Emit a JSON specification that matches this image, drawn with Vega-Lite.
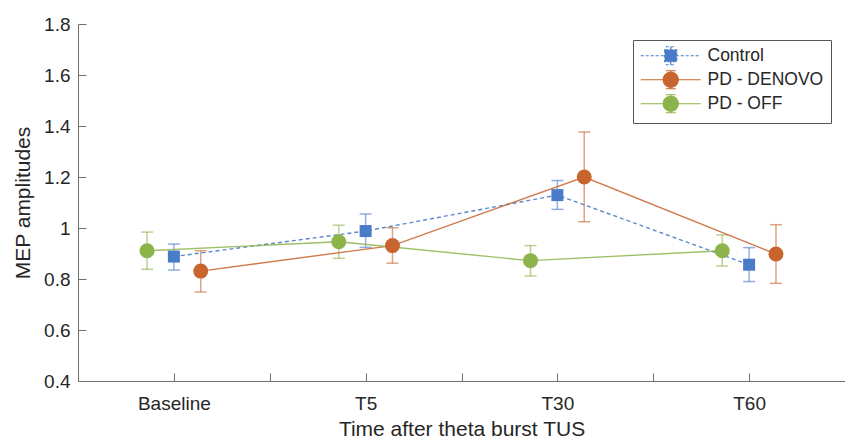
{
  "$schema": "https://vega.github.io/schema/vega-lite/v6.json",
  "width": 767,
  "height": 357,
  "autosize": {"type": "none"},
  "padding": {"left": 78, "top": 24, "right": 0, "bottom": 59},
  "config": {
    "view": {"stroke": null},
    "font": "Liberation Sans",
    "axis": {
      "domainColor": "#707070",
      "tickColor": "#707070",
      "labelColor": "#262626",
      "titleColor": "#262626",
      "labelFont": "Liberation Sans",
      "titleFont": "Liberation Sans",
      "labelFontSize": 19,
      "titleFontSize": 21,
      "titleFontWeight": "normal",
      "tickSize": -8,
      "grid": false
    },
    "legend": {
      "labelFont": "Liberation Sans",
      "labelFontSize": 17.5,
      "labelColor": "#262626",
      "strokeColor": "#555555",
      "fillColor": "white",
      "padding": 7,
      "rowPadding": 0,
      "symbolSize": 100,
      "symbolOffset": 22,
      "labelOffset": 28,
      "symbolStrokeWidth": 1.2,
      "symbolOpacity": 1
    }
  },
  "data": {
    "values": [
      {"group": "Control", "t": 1, "mean": 0.888, "lo": 0.835, "hi": 0.937},
      {"group": "Control", "t": 2, "mean": 0.988, "lo": 0.924, "hi": 1.055},
      {"group": "Control", "t": 3, "mean": 1.129, "lo": 1.073, "hi": 1.186},
      {"group": "Control", "t": 4, "mean": 0.856, "lo": 0.79, "hi": 0.923},
      {"group": "PD - DENOVO", "t": 1, "mean": 0.831, "lo": 0.749, "hi": 0.911},
      {"group": "PD - DENOVO", "t": 2, "mean": 0.931, "lo": 0.862, "hi": 1.001},
      {"group": "PD - DENOVO", "t": 3, "mean": 1.2, "lo": 1.025, "hi": 1.376},
      {"group": "PD - DENOVO", "t": 4, "mean": 0.898, "lo": 0.783, "hi": 1.013},
      {"group": "PD - OFF", "t": 1, "mean": 0.911, "lo": 0.838, "hi": 0.984},
      {"group": "PD - OFF", "t": 2, "mean": 0.946, "lo": 0.881, "hi": 1.011},
      {"group": "PD - OFF", "t": 3, "mean": 0.872, "lo": 0.812, "hi": 0.931},
      {"group": "PD - OFF", "t": 4, "mean": 0.911, "lo": 0.851, "hi": 0.973}
    ]
  },
  "transform": [
    {"calculate": "datum.t + (datum.group === 'PD - OFF' ? -0.14 : datum.group === 'PD - DENOVO' ? 0.14 : 0)", "as": "pos"}
  ],
  "resolve": {"legend": {"color": "independent", "fill": "independent", "stroke": "independent", "shape": "independent", "strokeDash": "independent"}},
  "encoding": {
    "x": {
      "field": "pos",
      "type": "quantitative",
      "title": "Time after theta burst TUS",
      "scale": {"domain": [0.5, 4.5], "nice": false, "zero": false},
      "axis": {
        "values": [1, 1.5, 2, 2.5, 3, 3.5, 4],
        "labelExpr": "datum.value == 1 ? 'Baseline' : datum.value == 2 ? 'T5' : datum.value == 3 ? 'T30' : datum.value == 4 ? 'T60' : ''",
        "labelPadding": 21,
        "titlePadding": 5
      }
    },
    "y": {"field": "mean", "type": "quantitative", "title": "MEP amplitudes", "scale": {"domain": [0.4, 1.8], "nice": false, "zero": false}, "axis": {"values": [0.4, 0.6, 0.8, 1, 1.2, 1.4, 1.6, 1.8], "format": "~g", "labelPadding": 16, "titlePadding": 10}}
  },
  "layer": [
    {
      "mark": {"type": "rule", "strokeWidth": 1.5, "opacity": 0.6},
      "encoding": {
        "y": {"field": "lo", "type": "quantitative", "title": "MEP amplitudes"},
        "y2": {"field": "hi"},
        "color": {"field": "group", "type": "nominal", "scale": {"domain": ["Control", "PD - DENOVO", "PD - OFF"], "range": ["#4a7bc8", "#c8652f", "#8db44a"]}, "legend": null}
      }
    },
    {
      "mark": {"type": "tick", "orient": "horizontal", "size": 12, "thickness": 1.5, "opacity": 0.6},
      "encoding": {
        "y": {"field": "lo", "type": "quantitative", "title": "MEP amplitudes"},
        "color": {"field": "group", "type": "nominal", "legend": null}
      }
    },
    {
      "mark": {"type": "tick", "orient": "horizontal", "size": 12, "thickness": 1.5, "opacity": 0.6},
      "encoding": {
        "y": {"field": "hi", "type": "quantitative", "title": "MEP amplitudes"},
        "color": {"field": "group", "type": "nominal", "legend": null}
      }
    },
    {
      "transform": [{"filter": "datum.group === 'Control'"}],
      "mark": {"type": "line", "strokeWidth": 1.4, "opacity": 0.9, "strokeDash": [4, 3]},
      "encoding": {
        "color": {"field": "group", "type": "nominal", "legend": null},
        "order": {"field": "t", "type": "quantitative"}
      }
    },
    {
      "transform": [{"filter": "datum.group !== 'Control'"}],
      "mark": {"type": "line", "strokeWidth": 1.4, "opacity": 0.85},
      "encoding": {
        "color": {"field": "group", "type": "nominal", "legend": null},
        "order": {"field": "t", "type": "quantitative"}
      }
    },
    {
      "transform": [{"filter": "datum.group === 'Control'"}],
      "mark": {"type": "point", "filled": true, "opacity": 1, "shape": "square", "size": 144},
      "encoding": {
        "color": {"field": "group", "type": "nominal", "legend": null}
      }
    },
    {
      "transform": [{"filter": "datum.group !== 'Control'"}],
      "mark": {"type": "point", "filled": true, "opacity": 1, "shape": "circle", "size": 225},
      "encoding": {
        "color": {"field": "group", "type": "nominal", "legend": null}
      }
    },
    {
      "transform": [{"filter": "false"}],
      "mark": {"type": "point", "filled": true},
      "encoding": {
        "fill": {"field": "group", "type": "nominal", "scale": {"domain": ["Control", "PD - DENOVO", "PD - OFF"], "range": ["#4a7bc8", "#c8652f", "#8db44a"]}, "legend": {"title": null, "orient": "none", "legendX": 555, "legendY": 16}},
        "stroke": {"field": "group", "type": "nominal", "scale": {"domain": ["Control", "PD - DENOVO", "PD - OFF"], "range": ["#4a7bc8", "#c8652f", "#8db44a"]}, "legend": {"title": null, "orient": "none", "legendX": 555, "legendY": 16}},
        "shape": {"field": "group", "type": "nominal", "scale": {"domain": ["Control", "PD - DENOVO", "PD - OFF"], "range": ["M-6,0H6M-1,-1.8H1M0,-1.8V1.8M-1,1.8H1M-1.2,-1.2H1.2V1.2H-1.2Z", "M-6,0H6M-1,-1.8H1M0,-1.8V1.8M-1,1.8H1M-1.5,0A1.5,1.5 0 1,0 1.5,0A1.5,1.5 0 1,0 -1.5,0Z", "M-6,0H6M-1,-1.8H1M0,-1.8V1.8M-1,1.8H1M-1.5,0A1.5,1.5 0 1,0 1.5,0A1.5,1.5 0 1,0 -1.5,0Z"]}, "legend": {"title": null, "orient": "none", "legendX": 555, "legendY": 16}},
        "strokeDash": {"field": "group", "type": "nominal", "scale": {"domain": ["Control", "PD - DENOVO", "PD - OFF"], "range": [[3, 2], [1, 0], [1, 0]]}, "legend": {"title": null, "orient": "none", "legendX": 555, "legendY": 16}}
      }
    }
  ]
}
